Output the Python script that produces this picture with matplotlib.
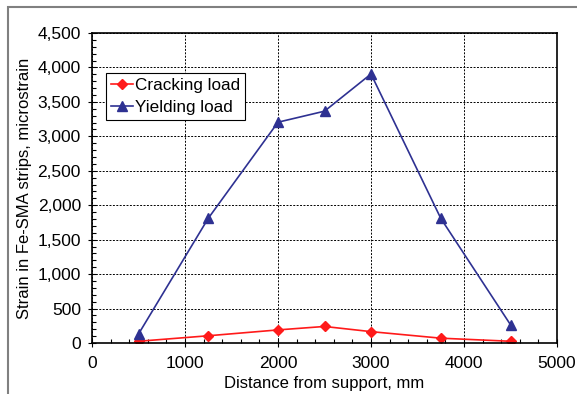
import matplotlib.pyplot as plt
from matplotlib.patches import Rectangle
from matplotlib.ticker import FuncFormatter, MultipleLocator

distance = [500, 1250, 2000, 2500, 3000, 3750, 4500]
cracking = [25, 105, 190, 240, 165, 70, 25]
yielding = [130, 1810, 3205, 3365, 3905, 1810, 265]

plt.rcParams["font.family"] = ["Liberation Sans", "DejaVu Sans"]

fig = plt.figure(figsize=(5.77, 3.94), dpi=100)
ax = fig.add_axes([92 / 577, 1 - 343 / 394, (557 - 92) / 577, (343 - 33) / 394])

# gray frame around the chart (cropped at right/bottom)
fig.patches.append(Rectangle((8 / 577, -0.1), 1.2, 1 - 7 / 394 + 0.1,
                             transform=fig.transFigure, fill=False,
                             edgecolor="#808080", linewidth=1.5))

ax.plot(distance, cracking, color="#ff1a1a", marker="D", markersize=5.5,
        linewidth=1.2, label="Cracking load")
ax.plot(distance, yielding, color="#2e3192", marker="^", markersize=7.5,
        linewidth=1.2, label="Yielding load")

ax.set_xlim(0, 5000)
ax.set_ylim(0, 4500)
ax.xaxis.set_major_locator(MultipleLocator(1000))
ax.xaxis.set_minor_locator(MultipleLocator(200))
ax.yaxis.set_major_locator(MultipleLocator(500))
ax.yaxis.set_minor_locator(MultipleLocator(100))
ax.yaxis.set_major_formatter(FuncFormatter(lambda v, p: f"{int(v):,}"))

ax.tick_params(which="major", direction="inout", length=6, labelsize=12.5, width=0.8)
ax.tick_params(which="minor", direction="in", length=3, width=0.8)
ax.tick_params(axis="x", pad=6)
ax.tick_params(axis="y", pad=5)

ax.grid(True, which="major", color="black", linestyle=(0, (2, 1.5)), linewidth=0.7)
for s in ax.spines.values():
    s.set_linewidth(1.2)

ax.set_xlabel("Distance from support, mm", fontsize=12, labelpad=4)
ax.set_ylabel("Strain in Fe-SMA strips, microstrain", fontsize=12, labelpad=4)

leg = ax.legend(loc="upper left", bbox_to_anchor=(0.03, 0.87), fontsize=12.3,
                fancybox=False, edgecolor="black", framealpha=1,
                handlelength=1.3, borderpad=0.3, labelspacing=0.4,
                handletextpad=0.1, borderaxespad=0)
leg.get_frame().set_linewidth(0.8)

fig.savefig("out.png", dpi=100)
